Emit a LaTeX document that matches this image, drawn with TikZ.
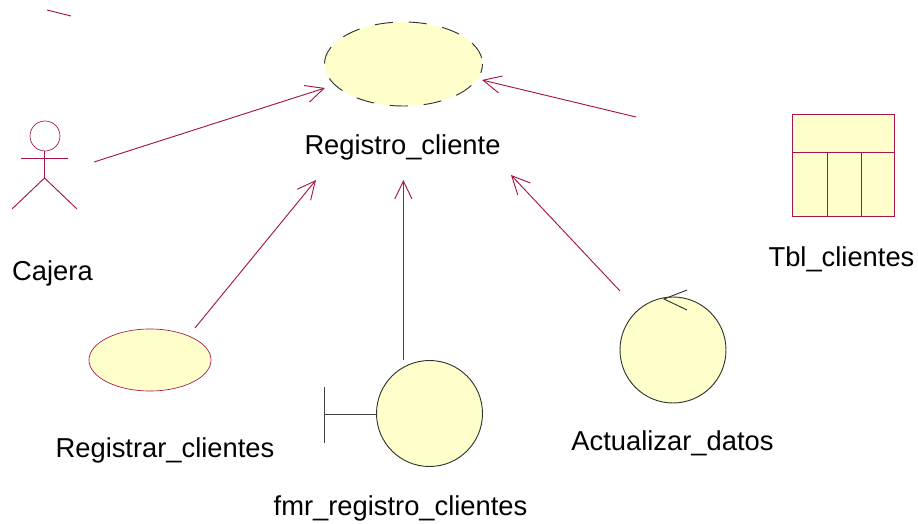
\documentclass[tikz,border=0pt]{standalone}
\usepackage{fontspec}
\setmainfont{Liberation Sans}
\usepackage{xcolor}
\usetikzlibrary{arrows.meta}
\usetikzlibrary{shapes.geometric}
\definecolor{lineas}{RGB}{165,20,75}
\definecolor{relleno}{RGB}{255,255,204}
\tikzset{
	conector/.style={draw=lineas,line width=0.7pt,-{Straight Barb[length=13.5pt,width=13pt,line width=0.7pt]}},
	caja/.style={draw=lineas,fill=relleno,line width=0.7pt},
	circulo/.style={circle,draw=black!80,fill=relleno,line width=0.7pt,inner sep=0pt,minimum size=79.5pt},
	etiqueta/.style={font=\fontsize{20.5pt}{24pt}\selectfont,inner sep=0pt}
}
\begin{document}
\begin{tikzpicture}[x=0.75pt,y=-0.75pt]
	\useasboundingbox (0,0) rectangle (918,524);
	% casos de uso
	\node[ellipse,draw=black!80,fill=relleno,dash pattern=on 13.5pt off 12pt,dash phase=21pt,line width=0.7pt,inner sep=0pt,minimum width=118.5pt,minimum height=63pt] (registro) at (403.5,64) {};
	\node[ellipse,draw=lineas,fill=relleno,line width=0.5pt,inner sep=0pt,minimum width=91.5pt,minimum height=46.5pt] (registrar) at (150,360) {};
	\node[circulo] (fmr) at (429.5,413.5) {};
	\node[circulo] (actualizar) at (673,350) {};
	% actor
	\node[circle,draw=lineas,line width=0.5pt,inner sep=0pt,minimum size=22.5pt] (cabeza) at (45,136) {};
	\coordinate (cadera) at (44.5,178);
	\coordinate (cuello) at (44.5,151);
	\coordinate (brazoi) at (21,158);
	\coordinate (brazod) at (68,158);
	\coordinate (piei) at (12,209);
	\coordinate (pied) at (77,209);
	\draw[lineas,line width=0.7pt] (cuello)--(cadera);
	\draw[lineas,line width=0.7pt] (brazoi)--(brazod);
	\draw[lineas,line width=0.7pt] (piei)--(cadera)--(pied);
	% limite
	\coordinate (barraa) at (324,387);
	\coordinate (barrab) at (324,443);
	\coordinate (barram) at (324,414);
	\coordinate (barrac) at (376,414);
	\draw[black!75,line width=0.7pt] (barraa)--(barrab);
	\draw[black!75,line width=0.7pt] (barram)--(barrac);
	% control
	\coordinate (puntaa) at (687,290);
	\coordinate (puntab) at (664,299);
	\coordinate (puntac) at (687,310);
	\draw[black!80,line width=0.7pt] (puntaa)--(puntab)--(puntac);
	% tabla
	\node[caja,rectangle,inner sep=0pt,minimum width=76.5pt,minimum height=76.5pt] (tabla) at (843,165) {};
	\coordinate (cabi) at (792,152.5);
	\coordinate (cabd) at (894,152.5);
	\coordinate (col1a) at (827,152.5);
	\coordinate (col1b) at (827,216);
	\coordinate (col2a) at (861,152.5);
	\coordinate (col2b) at (861,216);
	\draw[lineas,line width=0.7pt] (cabi)--(cabd);
	\draw[lineas,line width=0.7pt] (col1a)--(col1b);
	\draw[lineas,line width=0.7pt] (col2a)--(col2b);
	% etiquetas
	\node[etiqueta] (lcajera) at (52.5,273) {Cajera};
	\node[etiqueta] (lregistro) at (402.5,147) {Registro\_cliente};
	\node[etiqueta] (lregistrar) at (165,450) {Registrar\_clientes};
	\node[etiqueta] (lfmr) at (400.5,508) {fmr\_registro\_clientes};
	\node[etiqueta] (lactualizar) at (672.5,443) {Actualizar\_datos};
	\node[etiqueta] (ltabla) at (841.5,259) {Tbl\_clientes};
	% relaciones
	\coordinate (desdecajera) at (94,162);
	\coordinate (hastacajera) at (325,88);
	\coordinate (desdereg) at (195,328);
	\coordinate (hastareg) at (316,180);
	\coordinate (desdefmr) at (403.4,360);
	\coordinate (hastafmr) at (403.4,180);
	\coordinate (desdeact) at (620,291);
	\coordinate (hastaact) at (511,175);
	\coordinate (desdetbl) at (636,117);
	\coordinate (hastatbl) at (482,80);
	\coordinate (sueltoa) at (47,10);
	\coordinate (sueltob) at (71,16);
	\draw[conector] (desdecajera)--(hastacajera);
	\draw[conector] (desdereg)--(hastareg);
	\draw[conector] (desdefmr)--(hastafmr);
	\draw[conector] (desdeact)--(hastaact);
	\draw[conector] (desdetbl)--(hastatbl);
	\draw[lineas,line width=0.7pt] (sueltoa)--(sueltob);
\end{tikzpicture}
\end{document}
